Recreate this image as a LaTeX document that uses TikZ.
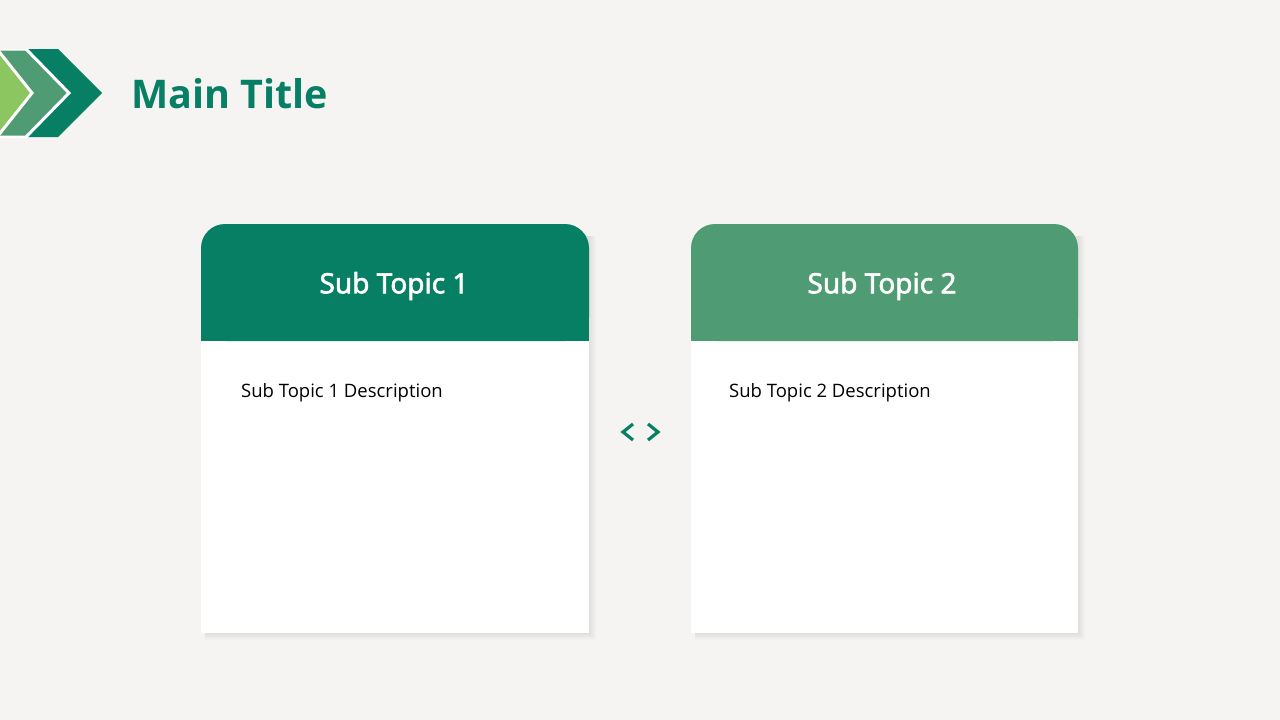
\documentclass[tikz,border=0pt]{standalone}
\usepackage{fontspec}
\setmainfont{Noto Sans}
\newfontfamily\descfont{Open Sans}
\newfontfamily\titlefont{Open Sans}
\newfontfamily\hdrfont{Noto Sans}[FakeBold=2]
\definecolor{bg}{HTML}{F5F4F2}
\definecolor{dkgreen}{HTML}{077F65}
\definecolor{mdgreen}{HTML}{4F9C74}
\definecolor{ltgreen}{HTML}{8BC660}
\tikzset{
  hdr/.style={text=white, font=\hdrfont\fontsize{28}{32}\selectfont, anchor=center},
  desc/.style={text=black, font=\descfont\fontsize{18.5}{22}\selectfont, anchor=base west},
  chev/.style={draw=white, line width=3pt, line join=miter},
  nav/.style={draw=dkgreen, line width=3.2pt, line cap=butt, line join=miter},
}
\begin{document}
\begin{tikzpicture}[x=1pt,y=-1pt]
\fill[bg] (0,0) rectangle (1280,720);
\useasboundingbox (0,0) rectangle (1280,720);
% chevrons
\begin{scope}
\clip (0,49) rectangle (1280,137);
\fill[dkgreen] (26,49) -- (58,49) -- (102,93) -- (58,137) -- (26,137) -- (69,93) -- cycle;
\filldraw[chev, fill=mdgreen] (-10,49) -- (26,49) -- (69,93) -- (26,137) -- (-10,137) -- cycle;
\filldraw[chev, fill=ltgreen] (-10,49) -- (-3,49) -- (32,93) -- (-3,137) -- (-10,137) -- cycle;
\end{scope}
\node[anchor=base west, text=dkgreen, font=\titlefont\bfseries\fontsize{39.5}{46}\selectfont, inner sep=0pt] (title) at (131,108) {Main Title};
% card 1
\foreach \k in {1,...,7} {
  \fill[black, opacity=0.012] (201+4,224+12) rectangle (589+\k,633+\k);
}
\fill[white] (201,341) rectangle (589,633);
\fill[dkgreen, rounded corners=24pt] (201,341) -- (201,224) -- (589,224) -- (589,341) -- cycle;
\fill[dkgreen] (201,300) rectangle (589,341);
\node[hdr] (h1) at (394,286) {Sub Topic 1};
\node[desc, inner sep=0pt] (d1) at (241,397) {Sub Topic 1 Description};
% card 2
\foreach \k in {1,...,7} {
  \fill[black, opacity=0.012] (691+4,224+12) rectangle (1078+\k,633+\k);
}
\fill[white] (691,341) rectangle (1078,633);
\fill[mdgreen, rounded corners=24pt] (691,341) -- (691,224) -- (1078,224) -- (1078,341) -- cycle;
\fill[mdgreen] (691,300) rectangle (1078,341);
\node[hdr] (h2) at (882,286) {Sub Topic 2};
\node[desc, inner sep=0pt] (d2) at (729,397) {Sub Topic 2 Description};
% nav arrows
\coordinate (la) at (633,424);
\coordinate (lb) at (623,432);
\coordinate (lc) at (633,440);
\coordinate (ra) at (648,424);
\coordinate (rb) at (658,432);
\coordinate (rc) at (648,440);
\draw[nav] (la) -- (lb) -- (lc);
\draw[nav] (ra) -- (rb) -- (rc);
\end{tikzpicture}
\end{document}
